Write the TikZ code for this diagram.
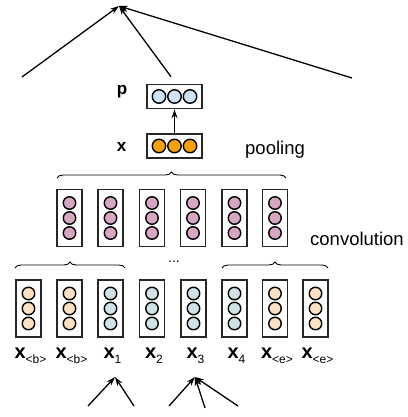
\documentclass[tikz,border=0pt]{standalone}
\usepackage{fontspec}
\setmainfont{Liberation Sans}
\usetikzlibrary{arrows.meta,decorations.pathreplacing,positioning}
\definecolor{cellpeach}{RGB}{252,224,194}
\definecolor{cellgray}{RGB}{208,226,230}
\definecolor{cellpink}{RGB}{214,166,194}
\definecolor{cellorange}{RGB}{246,160,10}
\definecolor{cellblue}{RGB}{206,226,244}
\tikzset{
  colbox/.style={draw=black!85, line width=1.6pt, minimum width=25pt, minimum height=57pt, inner sep=0pt},
  rowbox/.style={draw=black!85, line width=1.6pt, minimum width=55pt, minimum height=24pt, inner sep=0pt},
  unit/.style={circle, draw, line width=1.4pt, minimum size=12.5pt, inner sep=0pt},
  arr/.style={-{Stealth[length=9pt,width=6pt]}, line width=1.3pt},
  brc/.style={decorate, decoration={brace, amplitude=6pt}, line width=0.9pt},
  lbl/.style={font=\fontsize{20}{22}\selectfont\bfseries, anchor=base, inner sep=0pt},
  side/.style={font=\fontsize{18.5}{20}\selectfont, anchor=west, inner sep=0pt},
}
\newcommand{\subtag}[1]{\raisebox{-5pt}{\fontsize{12}{12}\selectfont\mdseries #1}}

\begin{document}
\begin{tikzpicture}[x=1pt,y=-1pt]
  \useasboundingbox (0,0) rectangle (407,417);

  % Input word columns
  \foreach \i/\cx/\col in {1/28.5/cellpeach, 2/69.5/cellpeach, 3/110.5/cellgray, 4/152/cellgray,
                           5/193.5/cellgray, 6/234.5/cellgray, 7/275/cellpeach, 8/315.5/cellpeach} {
    \node[colbox] (in\i) at (\cx,308.5) {};
    \foreach \k/\dy in {a/15,b/0,c/-15}
      \node[unit, fill=\col] (in\i\k) at ([yshift=\dy pt]in\i.center) {};
  }

  % Word labels
  \foreach \i/\cx/\s in {1/28.5/<b>, 2/69.5/<b>, 3/110.5/1, 4/152/2,
                         5/193.5/3, 6/234.5/4, 7/275/<e>, 8/315.5/<e>}
    \node[lbl] (lab\i) at (\cx+2,358) {x\subtag{\s}};

  % Convolution columns
  \foreach \i/\cx in {1/69.5, 2/110.5, 3/152, 4/193, 5/234.5, 6/275} {
    \node[colbox] (cv\i) at (\cx,218) {};
    \foreach \k/\dy in {a/15,b/0,c/-15}
      \node[unit, fill=cellpink] (cv\i\k) at ([yshift=\dy pt]cv\i.center) {};
  }

  % Braces
  \draw[brc] (15,268) -- (125,268);
  \draw[brc] (222,268) -- (328,268);
  \node[font=\fontsize{14}{14}\selectfont, inner sep=0pt] (dots) at (174,262) {...};
  \draw[brc] (57,178) -- (286,178);

  % Pooled vector and sentence vector
  \node[rowbox] (xv) at (174.5,146) {};
  \node[rowbox] (pv) at (174.5,96.5) {};
  \foreach \k/\dx in {a/-15.5,b/0,c/15.5} {
    \node[unit, minimum size=13.5pt, fill=cellorange] (xv\k) at ([xshift=\dx pt]xv.center) {};
    \node[unit, minimum size=13.5pt, fill=cellblue] (pv\k) at ([xshift=\dx pt]pv.center) {};
  }
  \node[font=\fontsize{17}{18}\selectfont\bfseries, inner sep=0pt] (xlab) at (121.5,147.5) {x};
  \node[font=\fontsize{17}{18}\selectfont\bfseries, inner sep=0pt] (plab) at (122,91.5) {p};
  \node[side] (pool) at (245,149.5) {pooling};
  \node[side] (conv) at (310,238.5) {convolution};
  \draw[arr] (xv.north) -- (pv.south);

  % Arrows to the parent
  \coordinate (apex) at (119,6);
  \coordinate (srcL) at (22,77);
  \coordinate (srcR) at (352,78);
  \draw[arr] (srcL) -- (apex);
  \draw[arr] ([xshift=-3.5pt,yshift=7pt]pv.north) -- (apex);
  \draw[arr] (srcR) -- (apex);

  % Arrows from the children
  \coordinate (tipA) at (115,377);
  \coordinate (tipB) at (195,377);
  \draw[arr] (88,406) -- (tipA);
  \draw[arr] (134,406) -- (tipA);
  \draw[arr] (169,406) -- (tipB);
  \draw[arr] (205,408) -- (tipB);
  \draw[arr] (238,406) -- (tipB);
\end{tikzpicture}
\end{document}
